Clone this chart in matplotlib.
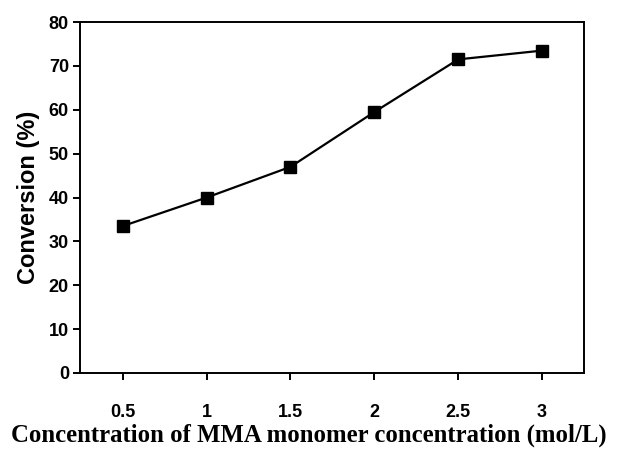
import matplotlib.pyplot as plt
from matplotlib import font_manager

# MMA monomer concentration (mol/L) vs. conversion (%)
concentration = [0.5, 1.0, 1.5, 2.0, 2.5, 3.0]
conversion = [33.5, 40.0, 47.0, 59.5, 71.5, 73.5]
x_ticks = [0.5, 1, 1.5, 2, 2.5, 3]
x_tick_labels = ['0.5', '1', '1.5', '2', '2.5', '3']
y_ticks = [0, 10, 20, 30, 40, 50, 60, 70, 80]

names = {f.name for f in font_manager.fontManager.ttflist}
tick_font = 'Liberation Sans Narrow' if 'Liberation Sans Narrow' in names else 'Liberation Sans'

fig = plt.figure(figsize=(6.17, 4.51), dpi=100)
ax = fig.add_axes([0.1297, 0.173, 0.8168, 0.778])

ax.plot(concentration, conversion, color='black', linewidth=1.6,
        marker='s', markersize=9, markerfacecolor='black', markeredgecolor='black')

ax.set_xlim(0.245, 3.25)
ax.set_ylim(0, 80)
ax.set_xticks(x_ticks)
ax.set_xticklabels(x_tick_labels)
ax.set_yticks(y_ticks)

for s in ax.spines.values():
    s.set_linewidth(1.4)
    s.set_color('black')

ax.tick_params(axis='y', direction='out', length=5, width=1.4, pad=3)
ax.tick_params(axis='x', direction='out', length=5, width=1.4, pad=17)
for lab in ax.get_xticklabels() + ax.get_yticklabels():
    lab.set_fontfamily(tick_font)
    lab.set_fontweight('bold')
    lab.set_fontsize(13)

ax.set_ylabel('Conversion (%)', fontfamily='Liberation Sans', fontweight='bold',
              fontsize=17, labelpad=6)
ax.set_xlabel('Concentration of MMA monomer concentration (mol/L)',
              fontfamily='Liberation Serif', fontweight='bold', fontsize=17.8)
# center the long x label on the figure rather than on the axes
ax.xaxis.set_label_coords(0.453, -0.143)

fig.savefig('out.png', dpi=100)
